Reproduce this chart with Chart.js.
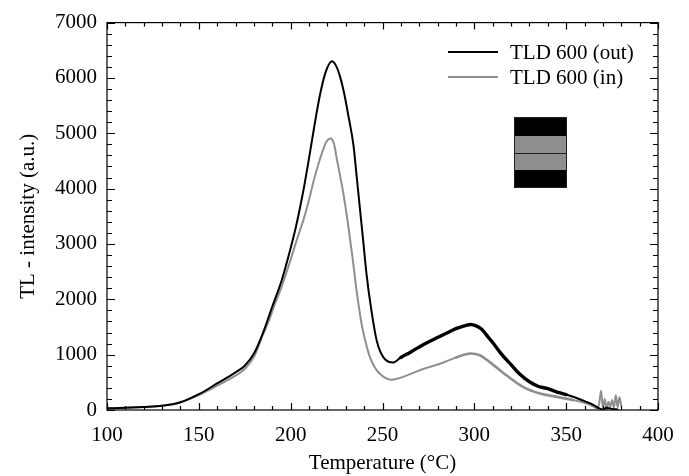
<!DOCTYPE html>
<html>
<head>
<meta charset="utf-8">
<script src="https://cdn.jsdelivr.net/npm/chart.js@4.4.1/dist/chart.umd.min.js"></script>
<style>
  html, body { margin: 0; padding: 0; background: #fff; }
  canvas { display: block; }
</style>
</head>
<body>
<canvas id="tlChart" width="689" height="476"></canvas>
<script>
// glow curves
const tempOut = [100, 110, 120, 130, 140, 150, 160, 170, 175, 180, 185, 190, 195, 199, 203, 207, 210, 213, 216, 219, 222.5, 225, 227, 229, 231.4, 234.2, 236, 237.8, 239.6, 241.4, 243.8, 246.9, 250.5, 256, 260, 265, 270, 275, 280, 285, 290, 295, 298, 301, 304, 307, 310, 315, 320, 325, 330, 335, 340, 345, 350, 355, 360, 365, 368, 370, 372, 375, 378];
const tlOut   = [30, 40, 55, 75, 140, 285, 480, 680, 800, 1020, 1400, 1870, 2330, 2800, 3330, 3980, 4550, 5150, 5700, 6100, 6300, 6200, 6010, 5740, 5320, 4780, 4200, 3610, 3020, 2430, 1835, 1245, 950, 860, 950, 1040, 1140, 1230, 1310, 1390, 1470, 1525, 1545, 1520, 1460, 1340, 1220, 1000, 820, 640, 510, 425, 385, 325, 280, 225, 160, 90, 30, 10, 40, 20, 10];

const tempIn = [100, 110, 120, 130, 140, 150, 160, 170, 175, 180, 185, 188, 191, 195, 200, 203, 205, 207, 210, 213, 217, 219.5, 221.5, 223.5, 225, 228.7, 231.4, 233.8, 236, 238.7, 241, 243.2, 246, 248.7, 252, 254.5, 258, 263, 272, 281, 290, 298, 303, 308.6, 317.7, 326.7, 335.8, 345, 354, 363, 365, 367, 368, 369, 370, 371, 372, 373, 374, 375, 376, 377, 378, 379, 380];
const tlIn   = [30, 40, 55, 75, 135, 270, 440, 620, 740, 960, 1370, 1600, 1880, 2220, 2720, 3040, 3240, 3440, 3800, 4200, 4640, 4850, 4905, 4820, 4560, 3910, 3320, 2720, 2130, 1540, 1200, 950, 760, 650, 570, 548, 565, 622, 740, 830, 947, 1020, 990, 860, 622, 414, 296, 237, 178, 95, 60, 30, 120, 350, 40, 200, 10, 150, 60, 180, 40, 270, 50, 230, 80];

const xTicks = [100, 150, 200, 250, 300, 350, 400];
const yTicks = [0, 1000, 2000, 3000, 4000, 5000, 6000, 7000];

const serif = "'Liberation Serif', 'DejaVu Serif', serif";
const toPts = (xs, ys) => xs.map((x, i) => ({ x, y: ys[i] }));

// noisy (hatched) stretches drawn a bit thicker
const band = (lo, hi, wide, thin) => (ctx) => {
  const x = ctx.p0.parsed.x;
  return x >= lo && x <= hi ? wide : thin;
};

// frame, inward ticks on all four sides, legend and the detector sketch
const decor = {
  id: 'decor',
  afterDraw(chart) {
    const { ctx, chartArea: a, scales } = chart;
    const xs = scales.x, ys = scales.y;
    ctx.save();
    ctx.strokeStyle = '#000';
    ctx.lineWidth = 1.2;
    ctx.strokeRect(a.left, a.top, a.right - a.left, a.bottom - a.top);

    ctx.beginPath();
    for (let v = 100; v <= 400; v += 10) {
      const px = Math.round(xs.getPixelForValue(v)) + 0.5;
      const len = v % 50 === 0 ? 7 : 4;
      ctx.moveTo(px, a.bottom); ctx.lineTo(px, a.bottom - len);
      ctx.moveTo(px, a.top); ctx.lineTo(px, a.top + len);
    }
    for (let v = 0; v <= 7000; v += 200) {
      const py = Math.round(ys.getPixelForValue(v)) + 0.5;
      const len = v % 1000 === 0 ? 8 : 5;
      ctx.moveTo(a.left, py); ctx.lineTo(a.left + len, py);
      ctx.moveTo(a.right, py); ctx.lineTo(a.right - len, py);
    }
    ctx.stroke();

    // legend
    const rows = [52, 77];
    chart.data.datasets.forEach((ds, i) => {
      ctx.strokeStyle = ds.borderColor;
      ctx.lineWidth = 2;
      ctx.beginPath();
      ctx.moveTo(448, rows[i]); ctx.lineTo(498, rows[i]);
      ctx.stroke();
      ctx.fillStyle = '#000';
      ctx.font = '21px ' + serif;
      ctx.textBaseline = 'middle';
      ctx.fillText(ds.label, 510, rows[i] + 1);
    });

    // layered detector inset
    ctx.fillStyle = '#000';
    ctx.fillRect(514, 117, 53, 19);
    ctx.fillRect(514, 170, 53, 18);
    ctx.fillStyle = '#8e8e8e';
    ctx.fillRect(514, 136, 53, 34);
    ctx.strokeStyle = '#222';
    ctx.lineWidth = 1;
    ctx.beginPath();
    ctx.moveTo(514, 153.5); ctx.lineTo(567, 153.5);
    ctx.stroke();
    ctx.strokeRect(514.5, 117.5, 52, 70);
    ctx.restore();
  }
};

new Chart(document.getElementById('tlChart'), {
  type: 'line',
  data: {
    datasets: [
      {
        label: 'TLD 600 (out)',
        data: toPts(tempOut, tlOut),
        borderColor: '#000',
        borderWidth: 2,
        borderCapStyle: 'round',
        borderJoinStyle: 'round',
        pointRadius: 0,
        cubicInterpolationMode: 'monotone',
        segment: { borderWidth: band(259, 346, 3.4, 2) },
      },
      {
        label: 'TLD 600 (in)',
        data: toPts(tempIn, tlIn),
        borderColor: '#8f8f8f',
        borderWidth: 2,
        borderCapStyle: 'round',
        borderJoinStyle: 'round',
        pointRadius: 0,
        cubicInterpolationMode: 'monotone',
        segment: { borderWidth: band(285, 346, 2.6, 2) },
      },
    ],
  },
  options: {
    responsive: false,
    animation: false,
    devicePixelRatio: 1,
    layout: { padding: { top: 16, right: 31, left: 0, bottom: 0 } },
    plugins: { legend: { display: false }, tooltip: { enabled: false } },
    scales: {
      x: {
        type: 'linear',
        min: 100,
        max: 400,
        afterBuildTicks: (s) => { s.ticks = xTicks.map(v => ({ value: v })); },
        afterFit: (s) => { s.height = 66; },
        grid: { display: false, drawTicks: false },
        border: { display: false },
        ticks: { color: '#000', font: { family: serif, size: 21 }, padding: 13, maxRotation: 0 },
        title: { display: true, text: 'Temperature (°C)', color: '#000', font: { family: serif, size: 21 }, padding: { top: 0, bottom: 0 } },
      },
      y: {
        min: 0,
        max: 7000,
        afterBuildTicks: (s) => { s.ticks = yTicks.map(v => ({ value: v })); },
        afterFit: (s) => { s.width = 107; },
        grid: { display: false, drawTicks: false },
        border: { display: false },
        ticks: { color: '#000', font: { family: serif, size: 21 }, padding: 10, callback: (v) => String(v) },
        title: { display: true, text: 'TL - intensity (a.u.)', color: '#000', font: { family: serif, size: 21 }, padding: { top: 16, bottom: 0 } },
      },
    },
  },
  plugins: [decor],
});
</script>
</body>
</html>
